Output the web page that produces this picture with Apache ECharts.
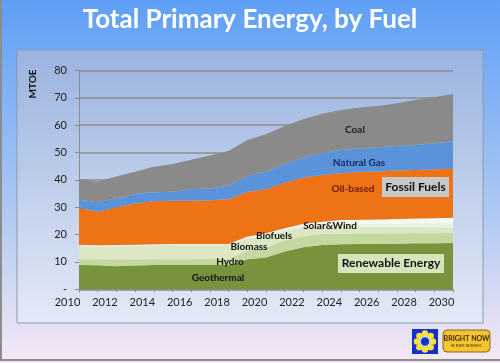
<!DOCTYPE html>
<html><head><meta charset="utf-8">
<script src="https://cdn.jsdelivr.net/npm/echarts@6/dist/echarts.min.js"></script>
<style>html,body{margin:0;padding:0;}#c{width:500px;height:363px;}</style>
</head><body><div id="c"></div>
<script>
const years = ['2010','2011','2012','2013','2014','2015','2016','2017','2018','2019','2020','2021','2022','2023','2024','2025','2026','2027','2028','2029','2030'];
const geothermal = [8.9,8.8,8.4,8.7,8.9,8.9,8.9,8.9,8.9,11.0,11.6,13.8,15.4,16.2,16.5,16.6,16.6,16.7,16.8,16.8,16.9];
const hydro      = [2.1,2.2,2.4,2.2,2.1,2.1,2.1,2.2,2.2,3.0,3.5,4.0,3.9,3.8,3.7,3.7,3.7,3.7,3.7,3.7,3.7];
const biomass    = [4.8,4.6,4.9,4.9,5.0,5.1,5.1,5.0,5.0,4.4,4.2,3.3,3.2,2.8,2.7,2.5,2.4,2.2,2.1,2.0,1.8];
const biofuels   = [0.3,0.3,0.3,0.3,0.3,0.3,0.3,0.3,0.3,0.6,0.8,0.8,0.9,0.9,1.0,1.1,1.2,1.3,1.4,1.5,1.6];
const solarWind  = [0.2,0.2,0.2,0.2,0.2,0.2,0.2,0.2,0.2,0.3,0.4,0.4,0.6,1.0,1.4,1.5,1.6,1.8,1.9,2.0,2.2];
const oilBased   = [13.5,12.3,13.8,15.1,15.7,15.8,15.8,16.0,16.3,16.4,16.1,16.7,16.9,17.1,17.1,17.5,17.6,17.7,17.7,17.9,17.9];
const naturalGas = [2.9,3.4,3.3,3.4,3.3,3.3,4.2,4.3,5.0,5.7,6.4,6.8,7.2,8.0,8.5,8.6,8.8,9.0,9.2,9.5,9.9];
const coal       = [7.5,7.6,7.9,8.2,9.3,10.1,10.8,12.0,12.7,13.2,13.7,13.9,14.1,14.4,14.7,15.0,15.1,15.6,16.4,16.8,17.4];
const yTicks = ['-','10','20','30','40','50','60','70','80'];

const layers = [
  ['Geothermal', geothermal, '#77933C'],
  ['Hydro', hydro, '#C5D89F'],
  ['Biomass', biomass, '#DCE7C4'],
  ['Biofuels', biofuels, '#EAF1DC'],
  ['Solar&Wind', solarWind, '#F6F9EE'],
  ['Oil-based', oilBased, '#EE7216'],
  ['Natural Gas', naturalGas, '#5A93DA'],
  ['Coal', coal, '#8A8A8A']
];

const FF = 'Lato, "Open Sans", sans-serif';
const chart = echarts.init(document.getElementById('c'), null, {renderer:'canvas'});

function lbl(text, x, y, color, size) {
  return {type:'text', x:x, y:y, z:50, style:{text:text, fill:color||'#111', font:'bold '+(size||10)+'px '+FF, textAlign:'center', textVerticalAlign:'middle'}};
}
function box(text, x, y, w, h, bg) {
  return [
    {type:'rect', z:50, shape:{x:x,y:y,width:w,height:h}, style:{fill:bg}},
    {type:'text', z:51, x:x+w/2, y:y+h/2, style:{text:text, fill:'#111', font:'bold 12px '+FF, textAlign:'center', textVerticalAlign:'middle'}}
  ];
}
const LX = 412, LY = 329;
const logo = [
  {type:'rect', z:50, shape:{x:LX,y:LY,width:26,height:25}, style:{fill:'#1530C8'}}
];
for (let i=0;i<8;i++){const a=i*Math.PI/4; logo.push({type:'circle', z:51, shape:{cx:LX+13+8*Math.cos(a), cy:LY+12.5+8*Math.sin(a), r:3.2}, style:{fill:'#F5E33B'}});}
logo.push({type:'circle', z:52, shape:{cx:LX+13,cy:LY+12.5,r:5}, style:{fill:'#1530C8', stroke:'#DDDDDD', lineWidth:1.5}});
logo.push({type:'rect', z:50, shape:{x:443,y:330,width:47,height:22,r:4}, style:{fill:'#F4C531', stroke:'#8A6A10', lineWidth:1}});
logo.push({type:'text', z:51, x:466.5, y:339, style:{text:'BRIGHT NOW', fill:'#3A2A05', font:'bold 7px '+FF, textAlign:'center', textVerticalAlign:'middle'}});
logo.push({type:'text', z:51, x:466.5, y:346.5, style:{text:'BE RIGHT. BE BRIGHT.', fill:'#3A2A05', font:'3px '+FF, textAlign:'center', textVerticalAlign:'middle'}});

chart.setOption({
  animation:false,
  backgroundColor:{type:'linear',x:0,y:0,x2:0,y2:1,colorStops:[{offset:0,color:'#5E9FF6'},{offset:0.55,color:'#A9C6F2'},{offset:1,color:'#F6E8F4'}]},
  graphic:[
    {type:'rect', z:-10, shape:{x:17,y:50,width:466,height:273}, style:{fill:{type:'linear',x:0,y:0,x2:0,y2:1,colorStops:[{offset:0,color:'#9AB3E0'},{offset:1,color:'#E4EAF6'}]}, stroke:'#8E9AAE', lineWidth:1}},
    {type:'line', z:60, shape:{x1:1,y1:0,x2:1,y2:360}, style:{stroke:'#8C8C8C', lineWidth:2}},
    {type:'line', z:60, shape:{x1:0,y1:360,x2:500,y2:360}, style:{stroke:'#8C8C8C', lineWidth:2}},
    {type:'text', x:250, y:20, z:50, style:{text:'Total Primary Energy, by Fuel', fill:'#FFFFFF', font:'bold 26px '+FF, textAlign:'center', textVerticalAlign:'middle'}},
    {type:'text', x:33, y:84, z:50, rotation:Math.PI/2, style:{text:'MTOE', fill:'#111', font:'bold 10px '+FF, textAlign:'center', textVerticalAlign:'middle'}},
    lbl('Coal', 355, 130, '#1A1A1A'),
    lbl('Natural Gas', 359, 163, '#14285A'),
    lbl('Oil-based', 353, 189, '#6B1A0E'),
    ...box('Fossil Fuels', 382, 177, 67, 20, '#C8C8C8'),
    lbl('Solar&Wind', 330, 226),
    lbl('Biofuels', 274, 236),
    lbl('Biomass', 249, 247),
    lbl('Hydro', 230, 262),
    lbl('Geothermal', 218, 278),
    ...box('Renewable Energy', 338, 254, 106, 19, '#D6E4BC'),
    ...logo
  ],
  grid:{left:79, right:47, top:70.5, bottom:73.7, containLabel:false},
  xAxis:{
    type:'category', data:years, boundaryGap:false,
    axisLine:{lineStyle:{color:'#8C8C8C', width:1}},
    axisTick:{show:true, interval:0, length:3, lineStyle:{color:'#8C8C8C'}},
    axisLabel:{interval:1, color:'#222', fontSize:11, fontFamily:FF, margin:8, padding:[0,23,0,0]},
    splitLine:{show:false}
  },
  yAxis:{
    type:'value', min:0, max:80, interval:10,
    axisLine:{show:true, lineStyle:{color:'#8C8C8C', width:1}},
    axisTick:{show:true, length:4, lineStyle:{color:'#8C8C8C'}},
    axisLabel:{color:'#222', fontSize:11, fontFamily:FF, margin:12, formatter:(v)=>yTicks[Math.round(v/10)]},
    splitLine:{show:true, lineStyle:{color:'#8C8C8C', width:1.5}}
  },
  series: layers.map(([name, arr, color])=>({
    name:name, type:'line', stack:'total', data:arr, symbol:'none', smooth:false,
    lineStyle:{width:0, color:color}, areaStyle:{color:color, opacity:1}, itemStyle:{color:color}, z:3
  }))
});
</script></body></html>
